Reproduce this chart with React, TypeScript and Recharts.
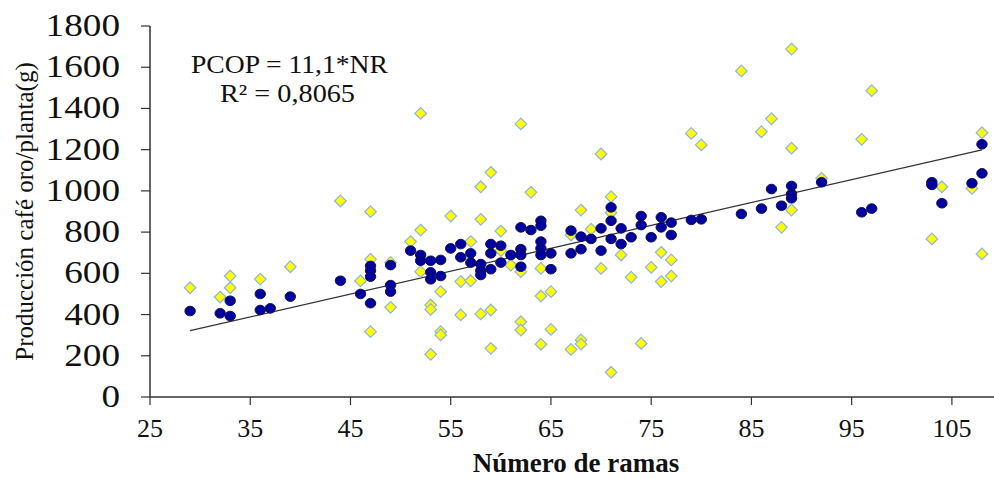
import React from 'react';
import { ScatterChart, Scatter, XAxis, YAxis, ReferenceLine } from 'recharts';

const xTicks = [25, 35, 45, 55, 65, 75, 85, 95, 105];
const yTicks = [0, 200, 400, 600, 800, 1000, 1200, 1400, 1600, 1800];

const yellowX = [29, 32, 33, 33, 36, 39, 44, 47, 47, 47, 46, 49, 49, 51, 52, 52, 52, 53, 53, 53, 62, 59, 58, 63, 70, 71, 71, 68, 55, 58, 60, 57, 60, 62, 64, 61, 69, 67, 70, 72, 73, 75, 76, 77, 76, 77, 79, 80, 54, 54, 54, 56, 57, 56, 58, 59, 59, 62, 62, 64, 65, 65, 64, 67, 68, 68, 71, 74, 89, 84, 97, 87, 86, 96, 89, 108, 92, 104, 107, 89, 88, 103, 108];
const yellowY = [530, 485, 587, 530, 572, 632, 951, 899, 668, 317, 563, 653, 435, 754, 810, 1376, 608, 446, 425, 207, 1325, 1090, 1020, 993, 1179, 972, 894, 907, 878, 862, 805, 754, 710, 608, 624, 640, 814, 786, 624, 689, 581, 629, 702, 665, 560, 587, 1279, 1223, 511, 317, 301, 560, 564, 398, 403, 422, 236, 365, 325, 490, 511, 328, 256, 231, 277, 257, 120, 260, 1688, 1582, 1486, 1350, 1287, 1250, 1207, 1282, 1061, 1020, 1012, 907, 823, 767, 694];

const blueX = [29, 32, 33, 33, 36, 36, 37, 39, 44, 46, 47, 47, 47, 47, 49, 49, 49, 51, 52, 52, 53, 53, 53, 54, 54, 55, 56, 56, 57, 57, 58, 58, 58, 59, 59, 59, 60, 60, 61, 62, 62, 62, 62, 63, 64, 64, 64, 64, 64, 65, 65, 67, 67, 68, 68, 69, 70, 70, 71, 71, 71, 72, 72, 73, 74, 74, 75, 76, 76, 77, 77, 79, 80, 84, 86, 87, 88, 89, 89, 89, 92, 96, 97, 103, 103, 104, 107, 108, 108];
const blueY = [417, 406, 467, 393, 500, 422, 430, 487, 564, 500, 636, 613, 584, 455, 640, 543, 511, 710, 689, 661, 661, 605, 571, 665, 587, 721, 742, 678, 697, 652, 645, 613, 592, 742, 697, 620, 734, 652, 689, 823, 717, 689, 632, 810, 855, 831, 754, 721, 689, 697, 620, 807, 697, 778, 717, 767, 818, 710, 920, 855, 767, 818, 742, 775, 878, 834, 775, 872, 823, 846, 786, 859, 862, 888, 914, 1009, 928, 1024, 985, 964, 1042, 896, 914, 1042, 1029, 940, 1037, 1226, 1085];

const trendSlope = 11.1;
const trendRange = [29, 108];

const yellowData = yellowX.map((x, i) => ({ x, y: yellowY[i] }));
const blueData = blueX.map((x, i) => ({ x, y: blueY[i] }));

const FONT = '"Liberation Serif", "Times New Roman", serif';

const Diamond = (props: any) => {
  const { cx, cy } = props;
  if (cx == null || cy == null) return null;
  const r = 5.8;
  return (
    <polygon
      points={`${cx},${cy - r} ${cx + r},${cy} ${cx},${cy + r} ${cx - r},${cy}`}
      fill="#FFFF00"
      stroke="#8DB3E2"
      strokeWidth={1.2}
    />
  );
};

const Dot = (props: any) => {
  const { cx, cy } = props;
  if (cx == null || cy == null) return null;
  return <ellipse cx={cx} cy={cy} rx={5.2} ry={4.8} fill="#0000A0" stroke="#10104A" strokeWidth={1} />;
};

const XTick = (props: any) => {
  const { x, y, payload } = props;
  return (
    <text x={x} y={y} dy={30} textAnchor="middle" fontFamily={FONT} fontSize={26} fill="#111">
      {payload.value}
    </text>
  );
};

const YTick = (props: any) => {
  const { x, y, payload } = props;
  return (
    <g transform={`translate(${x},${y + 10}) scale(1.2,1)`}>
      <text x={0} y={0} textAnchor="end" fontFamily={FONT} fontSize={31} fill="#111">
        {payload.value}
      </text>
    </g>
  );
};

export default function App() {
  return (
    <div style={{ position: 'absolute', left: 0, top: 0, width: 994, height: 479, background: '#fff' }}>
      <ScatterChart width={994} height={479} margin={{ top: 26, right: 0, bottom: 0, left: 0 }}>
        <XAxis
          type="number"
          dataKey="x"
          domain={[25, 109.2]}
          ticks={xTicks}
          allowDataOverflow
          height={82}
          tickSize={8}
          tickMargin={2}
          axisLine={{ stroke: '#333', strokeWidth: 1.5 }}
          tickLine={{ stroke: '#333', strokeWidth: 1.2 }}
          tick={<XTick />}
          label={{
            content: (p: any) => {
              const vb = p.viewBox || { x: 150, y: 397, width: 844 };
              return (
                <text x={vb.x + vb.width / 2 + 4} y={vb.y + 75} textAnchor="middle" fontFamily={FONT} fontSize={27} fontWeight="bold" fill="#111">
                  Número de ramas
                </text>
              );
            },
          }}
        />
        <YAxis
          type="number"
          dataKey="y"
          domain={[0, 1800]}
          ticks={yTicks}
          width={150}
          tickSize={9}
          tickMargin={21}
          axisLine={{ stroke: '#333', strokeWidth: 1.5 }}
          tickLine={{ stroke: '#333', strokeWidth: 1.2 }}
          tick={<YTick />}
          label={{
            content: (p: any) => {
              const vb = p.viewBox || { x: 0, y: 26, height: 371 };
              const cy = vb.y + vb.height / 2;
              return (
                <text x={33} y={cy} transform={`rotate(-90, 33, ${cy})`} textAnchor="middle" fontFamily={FONT} fontSize={25} fill="#111">
                  Producción café oro/planta(g)
                </text>
              );
            },
          }}
        />
        <ReferenceLine
          segment={[
            { x: trendRange[0], y: trendSlope * trendRange[0] },
            { x: trendRange[1], y: trendSlope * trendRange[1] },
          ]}
          stroke="#333"
          strokeWidth={1.3}
        />
        <Scatter data={yellowData} shape={<Diamond />} isAnimationActive={false} />
        <Scatter data={blueData} shape={<Dot />} isAnimationActive={false} />
        <text x={191} y={73} textLength={197} lengthAdjust="spacingAndGlyphs" fontFamily={FONT} fontSize={25} fill="#111">
          PCOP = 11,1*NR
        </text>
        <text x={220} y={102} textLength={135} lengthAdjust="spacingAndGlyphs" fontFamily={FONT} fontSize={25} fill="#111">
          R² = 0,8065
        </text>
      </ScatterChart>
    </div>
  );
}
